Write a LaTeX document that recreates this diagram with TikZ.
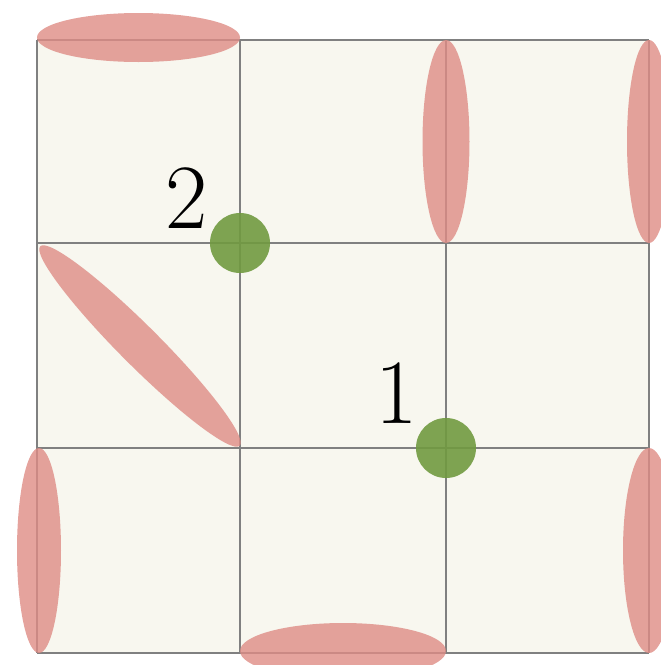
\documentclass[tikz,border=0pt]{standalone}
\usepackage{fontspec}
\definecolor{cream}{RGB}{248,247,239}
\definecolor{pinkc}{RGB}{222,140,133}
\definecolor{greenc}{RGB}{113,154,64}
\definecolor{gridgray}{RGB}{128,128,128}
\begin{document}
\begin{tikzpicture}[x=1pt,y=-1pt,
  gridline/.style={draw=gridgray,line width=1.3pt},
  lens/.style={fill=pinkc,fill opacity=0.8},
  site/.style={circle,fill=greenc,fill opacity=0.9,minimum size=60pt,inner sep=0pt},
  lbl/.style={font=\fontsize{92}{92}\selectfont,inner sep=0pt,text opacity=1}]
\useasboundingbox (0,0) rectangle (661,665);
\clip (0,0) rectangle (661,665);
\fill[cream] (37,40) rectangle (649,653);
\foreach \x in {37,240,446,649} \draw[gridline] (\x,40) -- (\x,653);
\foreach \y in {40,243,448,653} \draw[gridline] (37,\y) -- (649,\y);
% lenses
\fill[lens] (138.5,37.5) ellipse [x radius=101.5, y radius=24.5];
\fill[lens] (446,141.5) ellipse [x radius=23.5, y radius=101.5];
\fill[lens] (649,141.5) ellipse [x radius=22, y radius=101.5];
\fill[lens] (39,550.5) ellipse [x radius=22, y radius=102.5];
\fill[lens] (649,550.5) ellipse [x radius=26, y radius=102.5];
\fill[lens] (343,651) ellipse [x radius=103, y radius=28];
\fill[lens, rotate around={-45:(140,346)}] (140,346) ellipse [x radius=141, y radius=20];
% sites
\node[site] (p2) at (240,243) {};
\node[site] (p1) at (446,448) {};
\node[lbl] (l2) at (187,198) {2};
\node[lbl] (l1) at (397,393) {1};
\end{tikzpicture}
\end{document}
